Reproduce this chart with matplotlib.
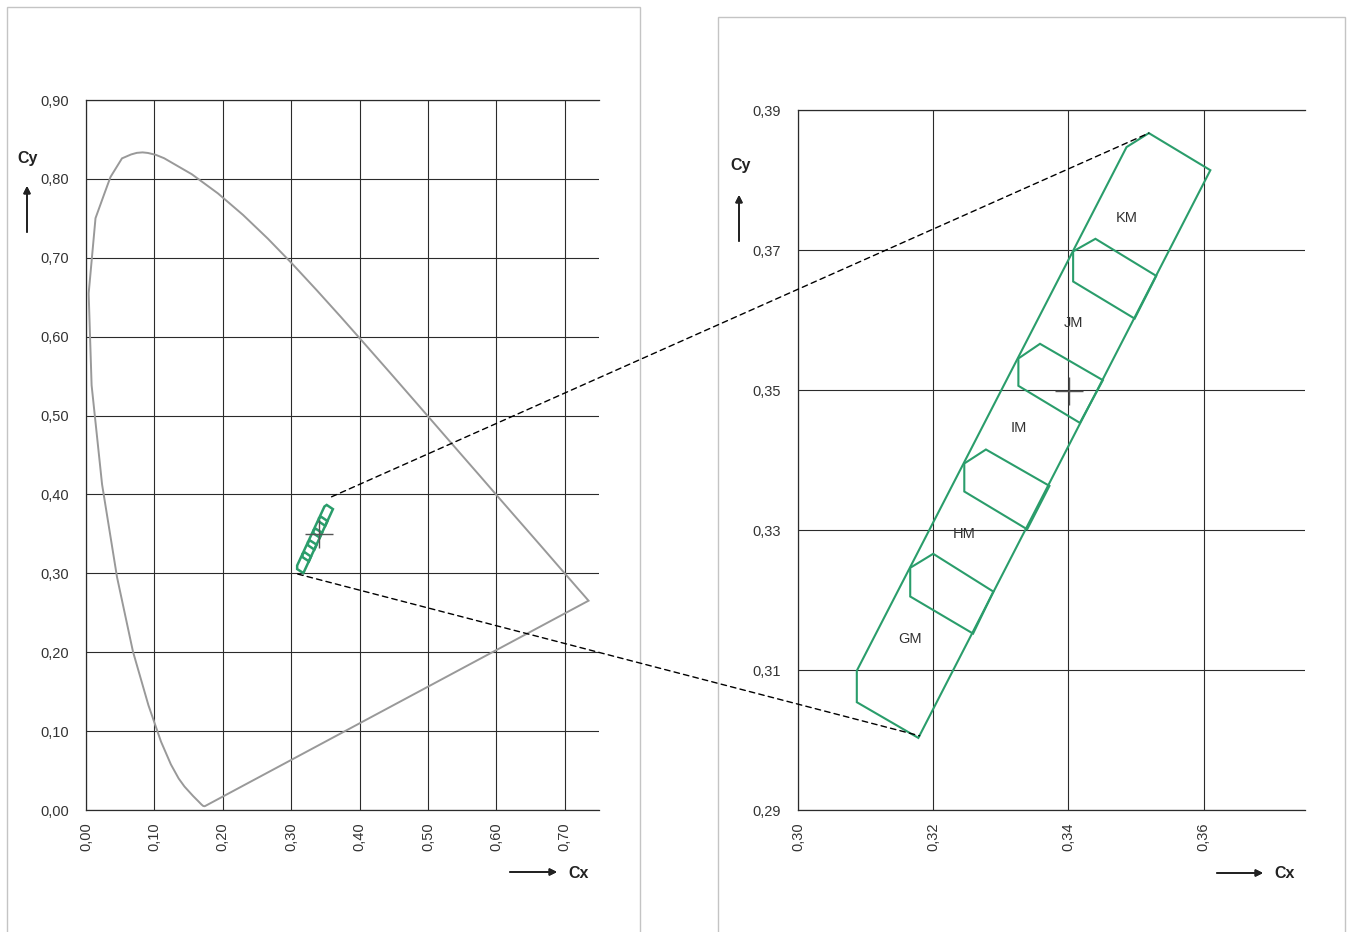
import matplotlib
matplotlib.use("Agg")
import matplotlib.pyplot as plt
from matplotlib.patches import Polygon, Rectangle, ConnectionPatch
from matplotlib.ticker import FuncFormatter

plt.rcParams["font.family"] = ["Liberation Sans", "DejaVu Sans"]

# CIE 1931 spectral locus
locus_x = [0.1741, 0.1733, 0.1714, 0.1689, 0.1644, 0.1566, 0.1440, 0.1355, 0.1241,
           0.1096, 0.0913, 0.0687, 0.0454, 0.0235, 0.0082, 0.0039, 0.0139, 0.0272,
           0.0358, 0.0526, 0.0660, 0.0743, 0.0827, 0.0903, 0.1020, 0.1142, 0.1547,
           0.1929, 0.2296, 0.2658, 0.3016, 0.3373, 0.3731, 0.4087, 0.4441, 0.4788,
           0.5125, 0.5448, 0.5752, 0.6029, 0.6270, 0.6658, 0.6915, 0.7079, 0.7190,
           0.7260, 0.7300, 0.7334, 0.7347]
locus_y = [0.0050, 0.0048, 0.0051, 0.0069, 0.0109, 0.0177, 0.0297, 0.0399, 0.0578,
           0.0868, 0.1327, 0.2007, 0.2950, 0.4127, 0.5384, 0.6548, 0.7502, 0.7821,
           0.8024, 0.8260, 0.8310, 0.8330, 0.8336, 0.8329, 0.8305, 0.8262, 0.8059,
           0.7816, 0.7543, 0.7243, 0.6923, 0.6589, 0.6245, 0.5896, 0.5547, 0.5202,
           0.4866, 0.4544, 0.4242, 0.3965, 0.3725, 0.3340, 0.3083, 0.2920, 0.2809,
           0.2740, 0.2700, 0.2666, 0.2653]

# outer tolerance area
outer_x = [0.3087, 0.3087, 0.3178, 0.3610, 0.3519, 0.3486]
outer_y = [0.3099, 0.3054, 0.3003, 0.3814, 0.3867, 0.3847]

# bin boundaries (GM/HM, HM/IM, IM/JM, JM/KM)
bins_x = [
    [0.3166, 0.3200, 0.3289, 0.3259, 0.3166],
    [0.3246, 0.3278, 0.3372, 0.3339, 0.3246],
    [0.3326, 0.3358, 0.3451, 0.3417, 0.3326],
    [0.3407, 0.3440, 0.3530, 0.3498, 0.3407],
]
bins_y = [
    [0.3246, 0.3266, 0.3212, 0.3152, 0.3205],
    [0.3395, 0.3415, 0.3363, 0.3301, 0.3355],
    [0.3545, 0.3566, 0.3514, 0.3453, 0.3506],
    [0.3698, 0.3716, 0.3663, 0.3602, 0.3655],
]

bin_names = ["GM", "HM", "IM", "JM", "KM"]
name_x = [0.3166, 0.3246, 0.3326, 0.3407, 0.3486]
name_y = [0.3144, 0.3294, 0.3446, 0.3596, 0.3746]

target = (0.3401, 0.3498)

# ends of the dashed zoom lines: (left chart point, right chart point)
zoom_top = ((0.359, 0.397), (0.3519, 0.3867))
zoom_bottom = ((0.3095, 0.2991), (0.3180, 0.3006))

left_xticks = [0.0, 0.1, 0.2, 0.3, 0.4, 0.5, 0.6, 0.7]
left_yticks = [0.0, 0.1, 0.2, 0.3, 0.4, 0.5, 0.6, 0.7, 0.8, 0.9]
right_xticks = [0.30, 0.32, 0.34, 0.36]
right_yticks = [0.29, 0.31, 0.33, 0.35, 0.37, 0.39]

GREEN = "#2a9d6b"
W, H = 1347, 932

fig = plt.figure(figsize=(W / 100, H / 100), dpi=100)


def fpx(x, y):
    return x / W, 1 - y / H


# panel frames
fig.patches.append(Rectangle(fpx(7, 945), 633 / W, 938 / H, transform=fig.transFigure,
                             fill=False, ec="#c4c4c4", lw=1.0))
fig.patches.append(Rectangle(fpx(718, 945), 627 / W, 928 / H, transform=fig.transFigure,
                             fill=False, ec="#c4c4c4", lw=1.0))

axL = fig.add_axes([86 / W, 122 / H, 513 / W, 710 / H])
axR = fig.add_axes([798 / W, 122 / H, 507 / W, 700 / H])

comma = FuncFormatter(lambda v, p: f"{v:.2f}".replace(".", ","))

for ax, xt, yt in [(axL, left_xticks, left_yticks), (axR, right_xticks, right_yticks)]:
    ax.set_xticks(xt)
    ax.set_yticks(yt)
    ax.xaxis.set_major_formatter(comma)
    ax.yaxis.set_major_formatter(comma)
    ax.tick_params(length=0, labelsize=10.5, labelcolor="#333333")
    ax.tick_params(axis="x", rotation=90, pad=9)
    ax.tick_params(axis="y", pad=12)
    ax.grid(True, color="#2b2b2b", lw=0.8)
    ax.set_axisbelow(True)
    ax.spines["right"].set_visible(False)
    for s in ["left", "bottom", "top"]:
        ax.spines[s].set_color("#2b2b2b")
        ax.spines[s].set_linewidth(0.9)

axL.set_xlim(0, 0.75)
axL.set_ylim(0, 0.90)
axR.set_xlim(0.30, 0.375)
axR.set_ylim(0.29, 0.39)

# spectral locus and purple line
axL.add_patch(Polygon(list(zip(locus_x, locus_y)), closed=True, fill=False,
                      ec="#999999", lw=1.4, zorder=3))

for ax, lw in [(axL, 1.8), (axR, 1.5)]:
    ax.add_patch(Polygon(list(zip(outer_x, outer_y)), closed=True, fill=False,
                         ec=GREEN, lw=lw, zorder=4, joinstyle="miter"))
    for bx, by in zip(bins_x, bins_y):
        ax.add_patch(Polygon(list(zip(bx, by)), closed=True, fill=False,
                             ec=GREEN, lw=lw, zorder=4, joinstyle="miter"))
    ax.plot([target[0]], [target[1]], marker="+", ms=20, mew=1.0,
            color="#555555", zorder=5)

for n, x, y in zip(bin_names, name_x, name_y):
    axR.text(x, y, n, ha="center", va="center", fontsize=10.5, color="#333333", zorder=6)

for a, b in [zoom_top, zoom_bottom]:
    con = ConnectionPatch(xyA=a, coordsA=axL.transData, xyB=b, coordsB=axR.transData,
                          color="black", lw=1.0, ls=(0, (4, 3)), zorder=10)
    fig.add_artist(con)

# axis captions with arrows
for cy_xy, arr_from, arr_to in [((28, 158), (27, 232), (27, 186)),
                                ((741, 166), (739, 241), (739, 195))]:
    fig.text(*fpx(*cy_xy), "Cy", ha="center", va="center", fontsize=11.5,
             fontweight="bold", color="#222222")
    fig.add_artist(plt.annotate("", xy=fpx(*arr_to), xytext=fpx(*arr_from),
                                xycoords="figure fraction", textcoords="figure fraction",
                                arrowprops=dict(arrowstyle="-|>", color="#222222", lw=1.3,
                                                mutation_scale=10, shrinkA=0, shrinkB=0)))

for cx_xy, arr_from, arr_to in [((568, 873), (510, 872), (557, 872)),
                                ((1274, 874), (1217, 873), (1263, 873))]:
    fig.text(*fpx(*cx_xy), "Cx", ha="left", va="center", fontsize=11.5,
             fontweight="bold", color="#222222")
    fig.add_artist(plt.annotate("", xy=fpx(*arr_to), xytext=fpx(*arr_from),
                                xycoords="figure fraction", textcoords="figure fraction",
                                arrowprops=dict(arrowstyle="-|>", color="#222222", lw=1.3,
                                                mutation_scale=10, shrinkA=0, shrinkB=0)))

fig.savefig("out.png", dpi=100, facecolor="white")
